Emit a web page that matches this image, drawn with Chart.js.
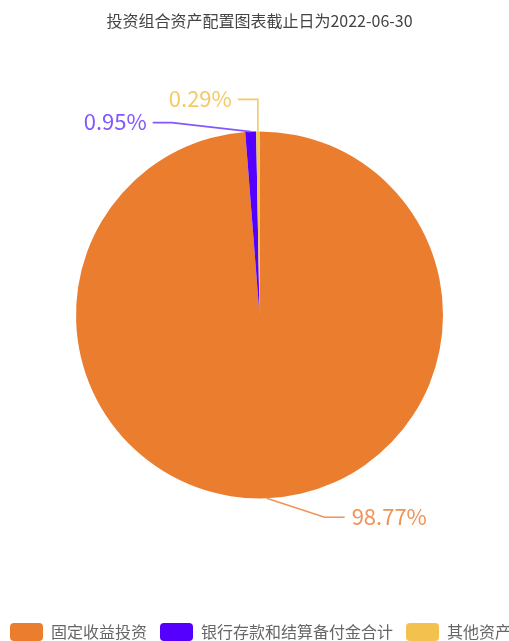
<!DOCTYPE html>
<html>
<head>
<meta charset="utf-8">
<script src="https://cdn.jsdelivr.net/npm/chart.js@4/dist/chart.umd.min.js"></script>
<style>
    html, body { margin: 0; padding: 0; background: #fff; }
    #wrap { width: 509px; height: 641px; position: relative; }
</style>
</head>
<body>
<div id="wrap"><canvas id="pie"></canvas></div>
<script>
const titleText = '投资组合资产配置图表截止日为2022-06-30';
const categories = ['固定收益投资', '银行存款和结算备付金合计', '其他资产'];
const values = [98.77, 0.95, 0.29];
const sliceColors = ['#EB7D2F', '#5500FF', '#F2C14E'];
const labelColors = ['#EF9456', '#8257FF', '#F5C965'];
// leader line layout per slice: elbow offset from the arc edge, then horizontal run
const labelElbow = [[58, 19], [-79, -9], [0, -32]];
const labelRun = [20, -19, -20];

const CJK = '"Noto Sans CJK SC", "Noto Sans", sans-serif';

// draws the percentage labels with their leader lines
const pieLabels = {
    id: 'pieLabels',
    afterDatasetsDraw(chart) {
        const ctx = chart.ctx;
        const arcs = chart.getDatasetMeta(0).data;
        ctx.save();
        arcs.forEach((arc, i) => {
            const mid = (arc.startAngle + arc.endAngle) / 2;
            const ax = arc.x + Math.cos(mid) * arc.outerRadius;
            const ay = arc.y + Math.sin(mid) * arc.outerRadius;
            const ex = ax + labelElbow[i][0];
            const ey = ay + labelElbow[i][1];
            const tx = ex + labelRun[i];
            ctx.strokeStyle = labelColors[i];
            ctx.lineWidth = 1.6;
            ctx.beginPath();
            ctx.moveTo(ax, ay);
            ctx.lineTo(ex, ey);
            ctx.lineTo(tx, ey);
            ctx.stroke();
            ctx.fillStyle = labelColors[i];
            ctx.font = '22px ' + CJK;
            ctx.textBaseline = 'middle';
            ctx.textAlign = labelRun[i] > 0 ? 'left' : 'right';
            ctx.fillText(values[i].toFixed(2) + '%', tx + (labelRun[i] > 0 ? 7 : -6), ey - 1);
        });
        ctx.restore();
    }
};

// single-row legend at the bottom (lets it run past the edge like the original)
const bottomLegend = {
    id: 'bottomLegend',
    afterDraw(chart) {
        const ctx = chart.ctx;
        const y = 632;
        let x = 10;
        ctx.save();
        ctx.font = '16px ' + CJK;
        ctx.textBaseline = 'middle';
        ctx.textAlign = 'left';
        categories.forEach((name, i) => {
            ctx.fillStyle = sliceColors[i];
            ctx.beginPath();
            ctx.roundRect(x, y - 9, 33, 18, 4);
            ctx.fill();
            x += 33 + 8;
            ctx.fillStyle = '#666';
            ctx.fillText(name, x, y);
            x += ctx.measureText(name).width + 13;
        });
        ctx.restore();
    }
};

new Chart(document.getElementById('pie'), {
    type: 'pie',
    data: {
        labels: categories,
        datasets: [{
            data: values,
            backgroundColor: sliceColors,
            borderWidth: 0
        }]
    },
    options: {
        responsive: true,
        maintainAspectRatio: false,
        animation: false,
        layout: {
            padding: { left: 76, right: 66, top: 0, bottom: 142 }
        },
        plugins: {
            legend: { display: false },
            tooltip: { enabled: false },
            title: {
                display: true,
                text: titleText,
                color: '#444',
                font: { family: CJK, size: 16, weight: 'normal' },
                padding: { top: 11, bottom: 100.6 }
            }
        }
    },
    plugins: [pieLabels, bottomLegend]
});
</script>
</body>
</html>
